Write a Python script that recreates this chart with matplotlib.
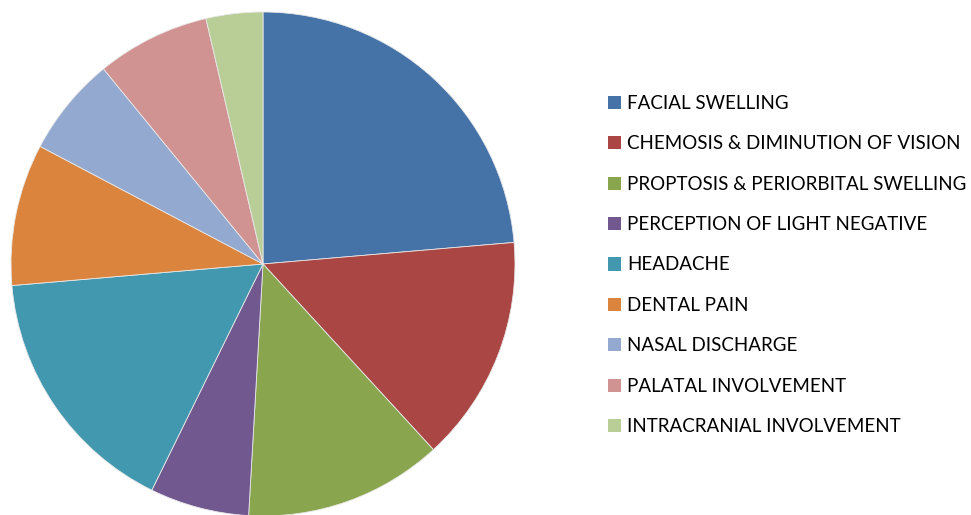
import matplotlib
matplotlib.use("Agg")
import matplotlib.pyplot as plt

labels = ["FACIAL SWELLING", "CHEMOSIS & DIMINUTION OF VISION",
          "PROPTOSIS & PERIORBITAL SWELLING", "PERCEPTION OF LIGHT NEGATIVE",
          "HEADACHE", "DENTAL PAIN", "NASAL DISCHARGE",
          "PALATAL INVOLVEMENT", "INTRACRANIAL INVOLVEMENT"]
counts = [26, 16, 14, 7, 18, 10, 7, 8, 4]
colors = ["#4572A7", "#AA4643", "#89A54E", "#71588F", "#4198AF",
          "#DB843D", "#93A9CF", "#D19392", "#B9CD96"]

W, H = 971, 515
fig = plt.figure(figsize=(W / 100, H / 100), dpi=100)

cx, cy, r = 263, 264, 252
ax = fig.add_axes([(cx - r) / W, (H - cy - r) / H, 2 * r / W, 2 * r / H])
wedges, _ = ax.pie(counts, colors=colors, startangle=90, counterclock=False,
                   radius=1, wedgeprops=dict(edgecolor="#e8e8e8", linewidth=0.6))
ax.set_xlim(-1, 1)
ax.set_ylim(-1, 1)
ax.set_aspect("equal")
ax.axis("off")

leg = fig.legend(wedges, labels, loc="center left",
                 bbox_to_anchor=(608 / W, 1 - 265 / H),
                 frameon=False, prop={"family": "Lato", "size": 13.5},
                 handlelength=0.7, handleheight=0.7, handletextpad=0.32,
                 labelspacing=1.25, borderaxespad=0, borderpad=0)
for h in leg.legend_handles:
    h.set_edgecolor("none")

fig.savefig("out.png", dpi=100)
